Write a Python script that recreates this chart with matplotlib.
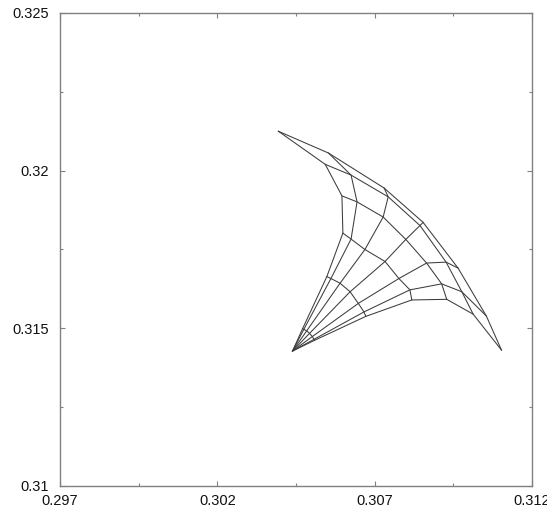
import numpy as np
import matplotlib
matplotlib.use("Agg")
import matplotlib.pyplot as plt

# Punto comun (vertice inferior izquierdo)
apex_x = 0.30439
apex_y = 0.31428

# Anillos de la malla (j = 1..6), un valor por rayo (i = 0..6)
ring1_x = [0.30471, 0.30475, 0.30484, 0.30493, 0.30502, 0.30507, 0.30509]
ring1_y = [0.31499, 0.31497, 0.31492, 0.31484, 0.31474, 0.31465, 0.31462]
ring2_x = [0.30548, 0.30561, 0.30590, 0.30622, 0.30648, 0.30666, 0.30672]
ring2_y = [0.31664, 0.31658, 0.31643, 0.31616, 0.31579, 0.31552, 0.31538]
ring3_x = [0.30599, 0.30625, 0.30669, 0.30733, 0.30777, 0.30812, 0.30818]
ring3_y = [0.31802, 0.31783, 0.31750, 0.31712, 0.31658, 0.31622, 0.31590]
ring4_x = [0.30596, 0.30644, 0.30727, 0.30799, 0.30865, 0.30913, 0.30929]
ring4_y = [0.31920, 0.31901, 0.31853, 0.31782, 0.31707, 0.31641, 0.31592]
ring5_x = [0.30543, 0.30625, 0.30743, 0.30844, 0.30927, 0.30977, 0.31013]
ring5_y = [0.32020, 0.31986, 0.31917, 0.31826, 0.31710, 0.31616, 0.31545]
ring6_x = [0.30394, 0.30553, 0.30730, 0.30854, 0.30965, 0.31055, 0.31103]
ring6_y = [0.32125, 0.32056, 0.31945, 0.31836, 0.31691, 0.31539, 0.31431]

# Ejes
x_ticks = [0.297, 0.302, 0.307, 0.312]
x_labels = ["0.297", "0.302", "0.307", "0.312"]
y_ticks = [0.31, 0.315, 0.32, 0.325]
y_labels = ["0.31", "0.315", "0.32", "0.325"]
x_minor = [0.2995, 0.3045, 0.3095]
y_minor = [0.3125, 0.3175, 0.3225]

plt.rcParams["font.family"] = ["Liberation Sans", "DejaVu Sans"]

# Arma la malla completa: filas = anillos, columnas = rayos
n_rays = len(ring1_x)
mesh_x = np.array([[apex_x] * n_rays, ring1_x, ring2_x, ring3_x, ring4_x, ring5_x, ring6_x])
mesh_y = np.array([[apex_y] * n_rays, ring1_y, ring2_y, ring3_y, ring4_y, ring5_y, ring6_y])

fig = plt.figure(figsize=(5.47, 5.09), dpi=100)
ax = fig.add_axes([60 / 547, 23 / 509, 472 / 547, 473 / 509])

line_kw = dict(color="#3c3c3c", linewidth=0.75, solid_joinstyle="miter")

# Rayos (desde el vertice hacia el borde superior)
for i in range(n_rays):
    ax.plot(mesh_x[:, i], mesh_y[:, i], **line_kw)

# Anillos
for j in range(1, mesh_x.shape[0]):
    ax.plot(mesh_x[j, :], mesh_y[j, :], **line_kw)

ax.set_xlim(x_ticks[0], x_ticks[-1])
ax.set_ylim(y_ticks[0], y_ticks[-1])
ax.set_xticks(x_ticks)
ax.set_xticklabels(x_labels)
ax.set_yticks(y_ticks)
ax.set_yticklabels(y_labels)
ax.set_xticks(x_minor, minor=True)
ax.set_yticks(y_minor, minor=True)

ax.tick_params(which="both", direction="in", top=True, right=True,
               color="#808080", labelsize=10.5, labelcolor="#111111")
ax.tick_params(which="major", length=3.5, width=0.8)
ax.tick_params(which="minor", length=2, width=0.8)
ax.tick_params(axis="x", pad=6)
ax.tick_params(axis="y", pad=8)

for sp in ax.spines.values():
    sp.set_color("#808080")
    sp.set_linewidth(1.0)

fig.savefig("out.png", dpi=100)
